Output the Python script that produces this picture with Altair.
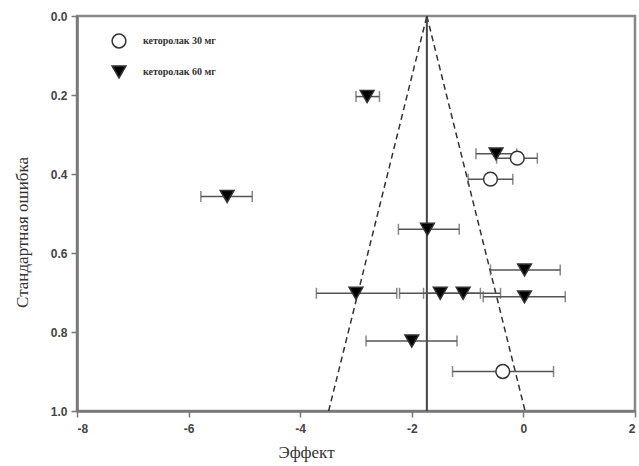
import altair as alt
import pandas as pd

# Data
groups = ["кеторолак 60 мг", "кеторолак 60 мг", "кеторолак 60 мг", "кеторолак 30 мг",
          "кеторолак 30 мг", "кеторолак 60 мг", "кеторолак 60 мг", "кеторолак 60 мг",
          "кеторолак 60 мг", "кеторолак 60 мг", "кеторолак 60 мг", "кеторолак 60 мг",
          "кеторолак 30 мг"]
effect = [-2.80, -5.31, -0.49, -0.11, -0.59, -1.72, 0.02, -3.00, -1.49, -1.08, 0.02, -2.00, -0.37]
se = [0.204, 0.457, 0.349, 0.36, 0.413, 0.54, 0.643, 0.702, 0.702, 0.702, 0.711, 0.823, 0.90]
ci_low = [-3.00, -5.78, -0.85, -0.48, -0.99, -2.24, -0.59, -3.71, -2.22, -1.79, -0.72, -2.82, -1.27]
ci_high = [-2.58, -4.86, -0.12, 0.25, -0.19, -1.15, 0.66, -2.27, -0.77, -0.41, 0.75, -1.19, 0.54]

pooled_effect = -1.73
funnel_se = [0.0, 1.0]
funnel_left = [-1.73, -3.49]
funnel_right = [-1.73, 0.03]

x_ticks = [-8, -6, -4, -2, 0, 2]
y_ticks = [0.0, 0.2, 0.4, 0.6, 0.8, 1.0]
series_order = ["кеторолак 30 мг", "кеторолак 60 мг"]

df = pd.DataFrame({"group": groups, "effect": effect, "se": se,
                   "lo": ci_low, "hi": ci_high})
fun_df = pd.DataFrame({"se": funnel_se * 2,
                       "x": funnel_left + funnel_right,
                       "side": ["L", "L", "R", "R"]})
pool_df = pd.DataFrame({"x": [pooled_effect], "y0": [0.0], "y1": [1.0]})

xs = alt.Scale(domain=[-8, 2], nice=False, zero=False)
ys = alt.Scale(domain=[0, 1], reverse=True, nice=False, zero=False)

x_axis = alt.Axis(values=x_ticks, title="Эффект", grid=False,
                  labelExpr="'' + datum.value",
                  titleX=229, titleY=41, titleAlign="center", titleBaseline="middle")
y_axis = alt.Axis(values=y_ticks, title="Стандартная ошибка", grid=False, format=".1f",
                  titleX=-55, titleY=216, titleAngle=270, titleAlign="center",
                  titleBaseline="middle")

base = alt.Chart(df)

bars = base.mark_rule(color="#555", strokeWidth=1.5).encode(
    x=alt.X("lo:Q", scale=xs, axis=x_axis),
    x2="hi:Q",
    y=alt.Y("se:Q", scale=ys, axis=y_axis),
)
cap_lo = base.mark_tick(color="#555", orient="vertical", size=11, thickness=1.5).encode(
    x=alt.X("lo:Q", scale=xs), y=alt.Y("se:Q", scale=ys))
cap_hi = base.mark_tick(color="#555", orient="vertical", size=11, thickness=1.5).encode(
    x=alt.X("hi:Q", scale=xs), y=alt.Y("se:Q", scale=ys))

funnel = alt.Chart(fun_df).mark_line(color="#333", strokeWidth=1.5, strokeDash=[6, 4]).encode(
    x=alt.X("x:Q", scale=xs), y=alt.Y("se:Q", scale=ys), detail="side:N")

pooled = alt.Chart(pool_df).mark_rule(color="#444", strokeWidth=2).encode(
    x=alt.X("x:Q", scale=xs), y=alt.Y("y0:Q", scale=ys), y2="y1:Q")

points = base.mark_point(size=190, strokeWidth=1.5, opacity=1).encode(
    x=alt.X("effect:Q", scale=xs),
    y=alt.Y("se:Q", scale=ys),
    shape=alt.Shape("group:N", scale=alt.Scale(domain=series_order, range=["circle", "triangle-down"]),
                    legend=alt.Legend(title=None, orient="none", legendX=34, legendY=17,
                                      rowPadding=12, labelOffset=16, padding=0,
                                      symbolSize=190, symbolStrokeWidth=1.5,
                                      labelFont="Liberation Serif", labelFontSize=10,
                                      labelFontWeight="bold", labelColor="#333")),
    fill=alt.Fill("group:N", scale=alt.Scale(domain=series_order, range=["white", "black"])),
    stroke=alt.value("#333"),
)

chart = alt.layer(funnel, pooled, bars, cap_lo, cap_hi, points).properties(
    width=558, height=395,
    autosize=alt.AutoSizeParams(type="none"),
    padding={"left": 77, "top": 16, "right": 4, "bottom": 55},
).configure_view(stroke="#888", strokeWidth=2.5).configure_axis(
    domainColor="#777", domainWidth=2.5, tickColor="#777", tickSize=6, tickWidth=1.5,
    labelFont="Liberation Sans", labelFontWeight="bold", labelFontSize=12, labelColor="#444",
    labelPadding=4, titleFont="Liberation Serif", titleFontWeight="normal", titleFontSize=17,
    titleColor="#333",
).configure_axisX(labelPadding=6)

chart.save("out.html", embed_options={"renderer": "svg", "actions": False})
